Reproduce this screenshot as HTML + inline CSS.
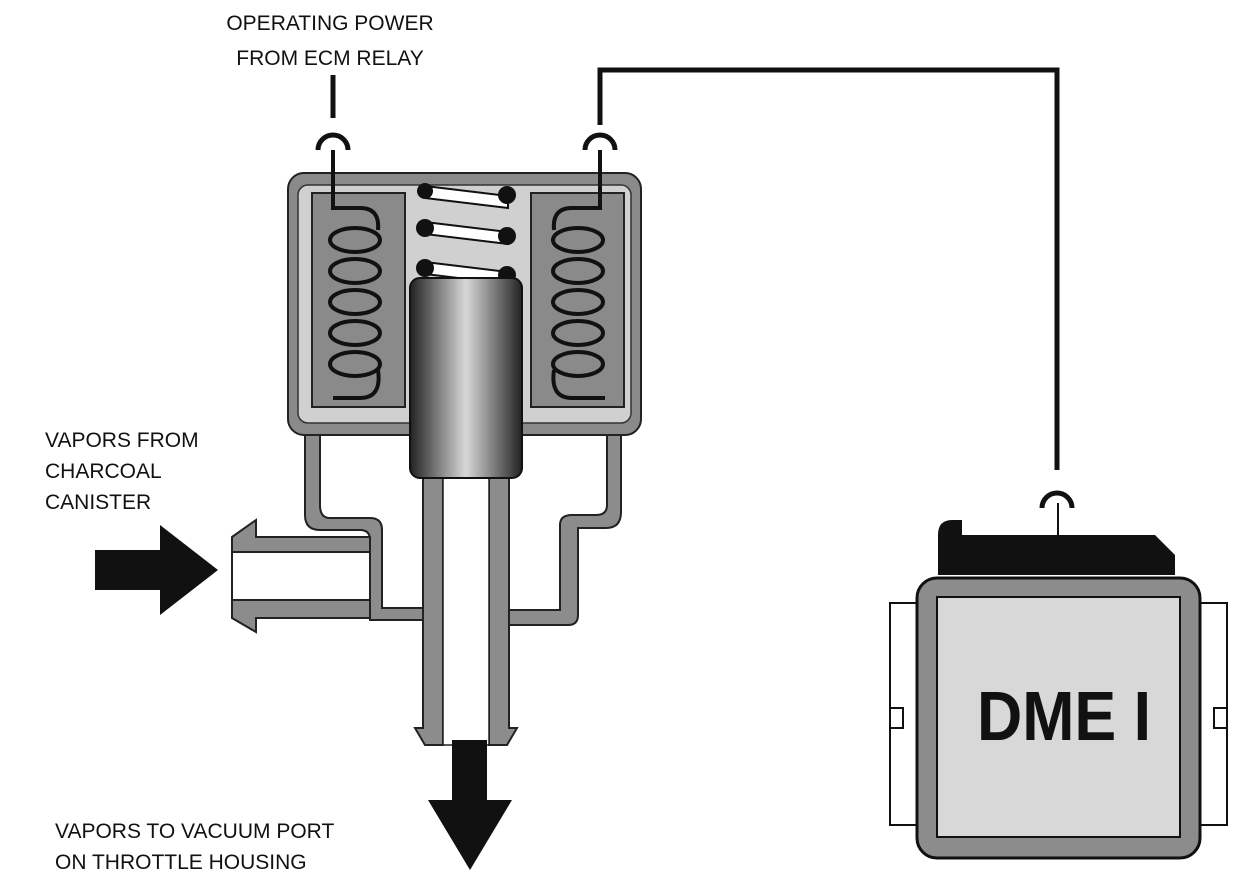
<!DOCTYPE html>
<html><head><meta charset="utf-8"><style>
html,body{margin:0;padding:0;background:#fff;}
svg{display:block;}
text{font-family:"Liberation Sans",sans-serif;fill:#111;}
</style></head><body>
<svg width="1243" height="892" viewBox="0 0 1243 892" xmlns="http://www.w3.org/2000/svg">
<defs>
<linearGradient id="pl" x1="0" x2="1" y1="0" y2="0">
<stop offset="0" stop-color="#222"/><stop offset="0.5" stop-color="#d8d8d8"/><stop offset="1" stop-color="#222"/>
</linearGradient>
</defs>
<text x="330" y="30" font-size="21" text-anchor="middle">OPERATING POWER</text>
<text x="330" y="65" font-size="21" text-anchor="middle">FROM ECM RELAY</text>
<text x="45" y="447" font-size="21">VAPORS FROM</text>
<text x="45" y="478" font-size="21">CHARCOAL</text>
<text x="45" y="509" font-size="21">CANISTER</text>
<text x="55" y="838" font-size="21">VAPORS TO VACUUM PORT</text>
<text x="55" y="869" font-size="21">ON THROTTLE HOUSING</text>

<line x1="333" y1="75" x2="333" y2="118" stroke="#111" stroke-width="5"/>
<path d="M318 150 A15 15 0 0 1 348 150" fill="none" stroke="#111" stroke-width="5"/>
<path d="M585 150 A15 15 0 0 1 615 150" fill="none" stroke="#111" stroke-width="5"/>
<polyline points="600,125 600,70 1057,70 1057,470" fill="none" stroke="#111" stroke-width="5"/>
<path d="M1042 508 A15 15 0 0 1 1072 508" fill="none" stroke="#111" stroke-width="5"/>
<line x1="1058" y1="503" x2="1058" y2="535" stroke="#111" stroke-width="2"/>

<path d="M305 430 V515 Q305 530 320 530 H360 Q370 530 370 540 V620 H423 V608 H382 V530 Q382 518 370 518 H330 Q320 518 320 505 V430 Z" fill="#8c8c8c" stroke="#222" stroke-width="2"/>
<path d="M621 430 V512 Q621 528 606 528 H578 V615 Q578 625 568 625 H509 V610 H560 V525 Q560 515 572 515 H596 Q607 515 607 505 V430 Z" fill="#8c8c8c" stroke="#222" stroke-width="2"/>
<path d="M232 537 L256 520 V537 H370 V552 H232 Z" fill="#8c8c8c" stroke="#222" stroke-width="2"/>
<path d="M232 600 H370 V618 H256 V632 L232 618 Z" fill="#8c8c8c" stroke="#222" stroke-width="2"/>
<rect x="232" y="552" width="138" height="48" fill="#fff" stroke="#222" stroke-width="2"/>
<path d="M423 470 V728 H415 L425 745 H443 V470 Z" fill="#8c8c8c" stroke="#222" stroke-width="2"/>
<path d="M509 470 V728 H517 L507 745 H489 V470 Z" fill="#8c8c8c" stroke="#222" stroke-width="2"/>
<rect x="443" y="470" width="46" height="275" fill="#fff" stroke="#222" stroke-width="1.5"/>

<rect x="288" y="173" width="353" height="262" rx="16" fill="#8a8a8a" stroke="#222" stroke-width="2"/>
<rect x="298" y="185" width="333" height="238" rx="10" fill="#d0d0d0" stroke="#333" stroke-width="1.5"/>
<rect x="312" y="193" width="93" height="214" fill="#8a8a8a" stroke="#222" stroke-width="2"/>
<rect x="531" y="193" width="93" height="214" fill="#8a8a8a" stroke="#222" stroke-width="2"/>
<g fill="none" stroke="#111" stroke-width="4">
<path d="M333 150 V208 H360 Q380 208 378 230"/>
<ellipse cx="355" cy="240" rx="25" ry="12"/>
<ellipse cx="355" cy="271" rx="25" ry="12"/>
<ellipse cx="355" cy="302" rx="25" ry="12"/>
<ellipse cx="355" cy="333" rx="25" ry="12"/>
<ellipse cx="355" cy="364" rx="25" ry="12"/>
<path d="M378 370 Q382 398 360 398 H333"/>
<path d="M600 150 V208 H572 Q552 208 554 230"/>
<ellipse cx="578" cy="240" rx="25" ry="12"/>
<ellipse cx="578" cy="271" rx="25" ry="12"/>
<ellipse cx="578" cy="302" rx="25" ry="12"/>
<ellipse cx="578" cy="333" rx="25" ry="12"/>
<ellipse cx="578" cy="364" rx="25" ry="12"/>
<path d="M554 370 Q550 398 572 398 H605"/>
</g>
<g stroke="#111" stroke-width="2" fill="#fff">
<polygon points="425,186 508,196 508,208 425,198"/>
<polygon points="425,222 508,232 508,244 425,234"/>
<polygon points="425,262 508,272 508,284 425,274"/>
</g>
<g fill="#111">
<circle cx="425" cy="191" r="8"/><circle cx="507" cy="195" r="9"/>
<circle cx="425" cy="228" r="9"/><circle cx="507" cy="236" r="9"/>
<circle cx="425" cy="268" r="9"/><circle cx="507" cy="275" r="9"/>
</g>
<rect x="410" y="278" width="112" height="200" rx="10" fill="url(#pl)" stroke="#111" stroke-width="2"/>

<polygon points="95,550 160,550 160,525 218,570 160,615 160,590 95,590" fill="#111"/>
<polygon points="452,740 487,740 487,800 512,800 470,870 428,800 452,800" fill="#111"/>

<path d="M938 575 V535 Q938 520 952 520 H962 V535 H1155 L1175 555 V575 Z" fill="#111"/>
<rect x="890" y="603" width="27" height="222" fill="#fff" stroke="#111" stroke-width="2"/>
<rect x="1200" y="603" width="27" height="222" fill="#fff" stroke="#111" stroke-width="2"/>
<rect x="890" y="708" width="13" height="20" fill="#fff" stroke="#111" stroke-width="2"/>
<rect x="1214" y="708" width="13" height="20" fill="#fff" stroke="#111" stroke-width="2"/>
<rect x="917" y="578" width="283" height="280" rx="20" fill="#8c8c8c" stroke="#111" stroke-width="3"/>
<rect x="937" y="597" width="243" height="240" fill="#d8d8d8" stroke="#111" stroke-width="2"/>
<text x="977" y="740" font-size="70" font-weight="bold" textLength="174" lengthAdjust="spacingAndGlyphs">DME I</text>
</svg>
</body></html>
